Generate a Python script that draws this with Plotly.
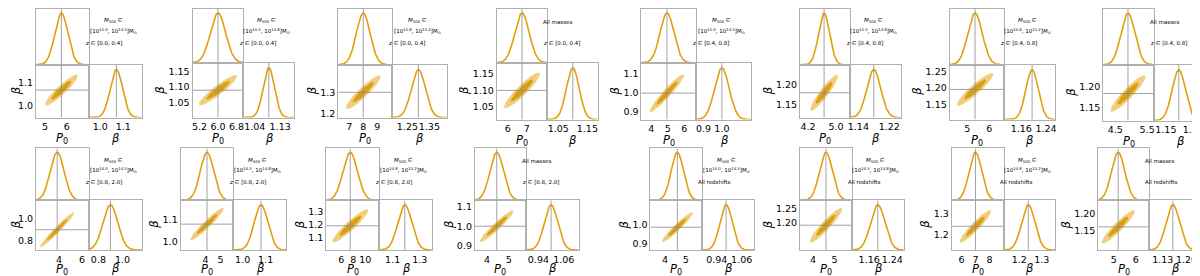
import numpy as np
import plotly.graph_objects as go

# ---------------- data ----------------
mass_text = [
    "[10<sup>14.0</sup>, 10<sup>14.5</sup>]", "[10<sup>14.5</sup>, 10<sup>14.8</sup>]",
    "[10<sup>14.8</sup>, 10<sup>15.2</sup>]", "All masses",
    "[10<sup>14.0</sup>, 10<sup>14.5</sup>]", "[10<sup>14.5</sup>, 10<sup>14.8</sup>]",
    "[10<sup>14.8</sup>, 10<sup>15.2</sup>]", "All masses",
    "[10<sup>14.0</sup>, 10<sup>14.5</sup>]", "[10<sup>14.5</sup>, 10<sup>14.8</sup>]",
    "[10<sup>14.8</sup>, 10<sup>15.2</sup>]", "All masses",
    "[10<sup>14.0</sup>, 10<sup>14.5</sup>]", "[10<sup>14.5</sup>, 10<sup>14.8</sup>]",
    "[10<sup>14.8</sup>, 10<sup>15.2</sup>]", "All masses",
]
z_text = ["[0.0, 0.4]"] * 4 + ["[0.4, 0.8]"] * 4 + ["[0.8, 2.0]"] * 4 + ["All redshifts"] * 4

p0_mean = [5.75, 6.0, 8.0, 6.75, 4.95, 4.66, 5.35, 4.9, 3.85, 4.1, 7.5, 4.45, 4.6, 4.6, 7.0, 5.2]
p0_sigma = [0.3, 0.33, 0.5, 0.38, 0.42, 0.16, 0.33, 0.22, 0.6, 0.45, 1.2, 0.31, 0.3, 0.3, 0.45, 0.3]
beta_mean = [1.07, 1.09, 1.30, 1.10, 1.00, 1.18, 1.195, 1.183, 0.90, 1.08, 1.19, 1.00, 0.985, 1.19, 1.24, 1.16]
beta_sigma = [0.027, 0.02, 0.032, 0.022, 0.04, 0.018, 0.02, 0.017, 0.062, 0.03, 0.052, 0.032, 0.03, 0.025, 0.03, 0.02]
rho = [0.92, 0.92, 0.92, 0.92, 0.95, 0.92, 0.92, 0.92, 0.97, 0.95, 0.93, 0.95, 0.95, 0.93, 0.93, 0.93]

p0_range = [[4.59, 7.0], [4.9, 7.1], [6.2, 10.07], [5.42, 8.05], [3.4, 6.73], [3.97, 5.4], [4.2, 6.64], [4.125, 5.72],
            [2.0, 6.6], [2.33, 5.87], [3.5, 12.3], [3.45, 5.77], [3.3, 5.8], [3.4, 5.8], [5.3, 9.0], [4.3, 6.6]]
beta_range = [[0.95, 1.18], [1.0, 1.18], [1.18, 1.43], [1.01, 1.185], [0.86, 1.16], [1.118, 1.25], [1.103, 1.27], [1.12, 1.25],
              [0.72, 1.16], [0.96, 1.19], [1.0, 1.39], [0.88, 1.13], [0.87, 1.12], [1.1, 1.28], [1.13, 1.36], [1.09, 1.24]]
p0_ticks = [["5", "6"], ["5.2", "6.0", "6.8"], ["7", "8", "9"], ["6", "7"], ["4", "5", "6"], ["4.2", "5.0"], ["5", "6"], ["4.5", "5.5"],
            ["4", "6"], ["4", "5"], ["6", "8", "10"], ["4", "5"], ["4", "5"], ["4", "5"], ["6", "7", "8"], ["5", "6"]]
beta_yticks = [["1.0", "1.1"], ["1.05", "1.10", "1.15"], ["1.2", "1.3"], ["1.05", "1.10", "1.15"], ["0.9", "1.0", "1.1"],
               ["1.15", "1.20"], ["1.15", "1.20", "1.25"], ["1.15", "1.20"],
               ["0.8", "1.0"], ["1.0", "1.1"], ["1.1", "1.2", "1.3"], ["0.9", "1.0", "1.1"],
               ["0.9", "1.0"], ["1.20", "1.25"], ["1.2", "1.3"], ["1.15", "1.20"]]
beta_xticks = [["1.0", "1.1"], ["1.04", "1.13"], ["1.25", "1.35"], ["1.05", "1.15"], ["0.9", "1.0"], ["1.14", "1.22"],
               ["1.16", "1.24"], ["1.15", "1.22"],
               ["0.8", "1.0"], ["1.0", "1.1"], ["1.1", "1.3"], ["0.94", "1.06"],
               ["0.94", "1.06"], ["1.16", "1.24"], ["1.2", "1.3"], ["1.13", "1.20"]]

# ---------------- layout geometry (pixels) ----------------
W, H = 1200, 276
# left, mid, right, top, divider, bottom
boxes = [
    (26, 79, 132, 1, 57, 110), (183, 234, 285, 1, 55, 110), (329, 383, 438, 1, 57, 110), (488, 538, 589, 1, 55, 112),
    (633, 688, 743, 1, 55, 112), (792, 842, 893, 1, 57, 110), (942, 996, 1048, 1, 57, 112), (1096, 1147, 1198, 1, 57, 113),
    (26, 79, 132, 141, 193, 243), (171, 224, 277, 141, 193, 243), (317, 370, 423, 141, 193, 243), (466, 517, 570, 141, 193, 243),
    (642, 694, 746, 141, 193, 243), (792, 844, 896, 141, 193, 243), (944, 996, 1048, 141, 193, 243), (1091, 1142, 1193, 141, 193, 243),
]

GOLD = "#E0A10C"
LIGHT = "rgba(240,206,125,1)"
DARK = "rgba(218,160,20,1)"
FRAME = "#b0b0b0"
CROSS = "#8a8a8a"

fig = go.Figure()
layout = dict(width=W, height=H, margin=dict(l=0, r=0, t=0, b=0), plot_bgcolor="white",
              paper_bgcolor="white", showlegend=False, annotations=[])


def px(x):
    return x / W


def py(y):
    return 1 - y / H


def axname(n):
    return "" if n == 1 else str(n)


def note(text, x, y, size, xanchor="center", angle=0):
    layout["annotations"].append(dict(text=text, x=px(x), y=py(y), xref="paper", yref="paper",
                                      xanchor=xanchor, yanchor="middle", showarrow=False, textangle=angle,
                                      align=("left" if xanchor == "left" else "center"),
                                      borderpad=0, font=dict(family="DejaVu Sans", size=size, color="black")))


TICK = 9.5
tickfont = dict(family="DejaVu Sans", size=TICK, color="black")


def label_width(s):
    return sum(0.32 * TICK if c == "." else 0.636 * TICK for c in s)


for i in range(16):
    L, M, R, T, D, B = boxes[i]
    m0, s0, mb, sb, r = p0_mean[i], p0_sigma[i], beta_mean[i], beta_sigma[i], rho[i]
    n1, n2, n3 = 3 * i + 1, 3 * i + 2, 3 * i + 3
    p0t = [float(t) for t in p0_ticks[i]]
    byt = [float(t) for t in beta_yticks[i]]
    bxt = [float(t) for t in beta_xticks[i]]

    common = dict(showline=True, mirror=True, linecolor=FRAME, linewidth=1, showgrid=False,
                  zeroline=False, ticks="", tickfont=tickfont, fixedrange=True, tickangle=0)

    # top-left marginal P0
    layout["xaxis" + axname(n1)] = dict(common, domain=[px(L), px(M)], range=p0_range[i],
                                         tickvals=p0t, showticklabels=False, anchor="y" + axname(n1))
    layout["yaxis" + axname(n1)] = dict(common, domain=[py(D), py(T)], range=[0, 1.08],
                                         showticklabels=False, anchor="x" + axname(n1))
    xs = np.linspace(p0_range[i][0], p0_range[i][1], 200)
    fig.add_trace(go.Scatter(x=xs, y=np.exp(-0.5 * ((xs - m0) / s0) ** 2), mode="lines",
                             line=dict(color=GOLD, width=1.6), xaxis="x" + axname(n1), yaxis="y" + axname(n1),
                             hoverinfo="skip"))
    fig.add_trace(go.Scatter(x=[m0, m0], y=[0, 1.08], mode="lines", line=dict(color=CROSS, width=0.8),
                             xaxis="x" + axname(n1), yaxis="y" + axname(n1), hoverinfo="skip"))

    # 2D panel
    layout["xaxis" + axname(n2)] = dict(common, domain=[px(L), px(M)], range=p0_range[i],
                                         tickvals=p0t, ticktext=p0_ticks[i], showticklabels=True,
                                         anchor="y" + axname(n2))
    layout["yaxis" + axname(n2)] = dict(common, domain=[py(B), py(D)], range=beta_range[i],
                                         tickvals=byt, ticktext=beta_yticks[i], showticklabels=True,
                                         anchor="x" + axname(n2))
    th = np.linspace(0, 2 * np.pi, 120)
    for k, col in [(2.49, LIGHT), (1.52, DARK)]:
        u = k * np.cos(th)
        v = k * np.sin(th)
        ex = m0 + s0 * u
        ey = mb + sb * (r * u + np.sqrt(1 - r * r) * v)
        fig.add_trace(go.Scatter(x=ex, y=ey, mode="lines", fill="toself", fillcolor=col,
                                 line=dict(width=0, color=col), xaxis="x" + axname(n2), yaxis="y" + axname(n2),
                                 hoverinfo="skip"))
    fig.add_trace(go.Scatter(x=[m0, m0], y=beta_range[i], mode="lines", line=dict(color=CROSS, width=0.8),
                             xaxis="x" + axname(n2), yaxis="y" + axname(n2), hoverinfo="skip"))
    fig.add_trace(go.Scatter(x=p0_range[i], y=[mb, mb], mode="lines", line=dict(color=CROSS, width=0.8),
                             xaxis="x" + axname(n2), yaxis="y" + axname(n2), hoverinfo="skip"))

    # bottom-right marginal beta
    layout["xaxis" + axname(n3)] = dict(common, domain=[px(M), px(R)], range=beta_range[i],
                                         tickvals=bxt, ticktext=beta_xticks[i], showticklabels=True,
                                         anchor="y" + axname(n3))
    layout["yaxis" + axname(n3)] = dict(common, domain=[py(B), py(D)], range=[0, 1.1],
                                         showticklabels=False, anchor="x" + axname(n3))
    bs = np.linspace(beta_range[i][0], beta_range[i][1], 200)
    fig.add_trace(go.Scatter(x=bs, y=np.exp(-0.5 * ((bs - mb) / sb) ** 2), mode="lines",
                             line=dict(color=GOLD, width=1.6), xaxis="x" + axname(n3), yaxis="y" + axname(n3),
                             hoverinfo="skip"))
    fig.add_trace(go.Scatter(x=[mb, mb], y=[0, 1.1], mode="lines", line=dict(color=CROSS, width=0.8),
                             xaxis="x" + axname(n3), yaxis="y" + axname(n3), hoverinfo="skip"))

    # axis titles
    dy = 21 if T < 100 else 19
    wmax = max(label_width(s) for s in beta_yticks[i])
    note("<i>P</i><sub>0</sub>", (L + M) / 2, B + dy, 11.5)
    note("<i>β</i>", (M + R) / 2, B + dy - 1, 11.5)
    note("<i>β</i>", max(L - wmax - 11, 6), (D + B) / 2, 11.5, angle=-90)

    # label text in the empty upper-right cell
    cx = (M + R) / 2
    if mass_text[i] == "All masses":
        note("All masses", M - 5, T + 13, 5.5, xanchor="left")
    else:
        note("<i>M</i><sub>500</sub> ∈", cx - 2, T + 12, 5.5)
        note(mass_text[i] + "M<sub>⊙</sub>", cx - 2, T + 22, 5.5)
    ztxt = "All redshifts" if z_text[i] == "All redshifts" else "<i>z</i> ∈ " + z_text[i]
    note(ztxt, M - 5, T + 34, 5.5, xanchor="left")

fig.update_layout(**layout)
fig.write_html("out.html")
